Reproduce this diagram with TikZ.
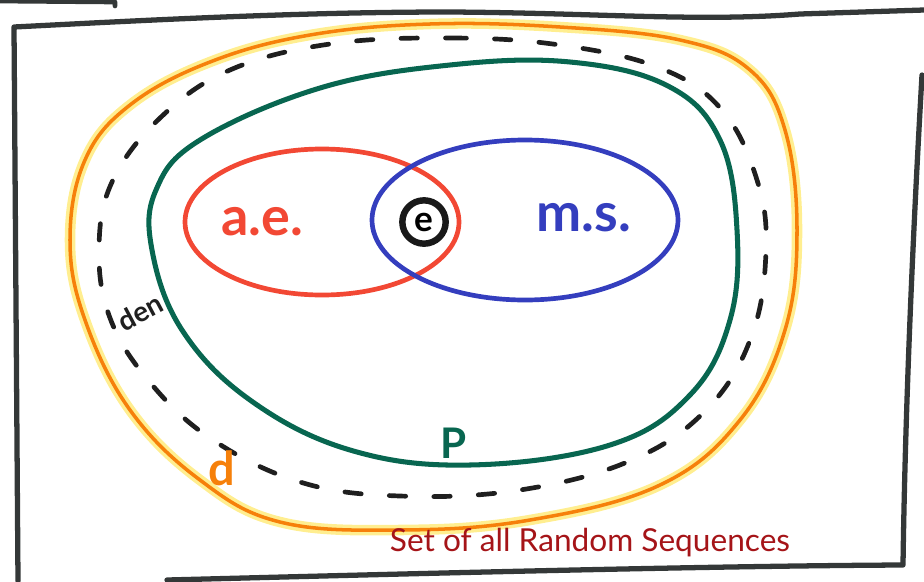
\documentclass[tikz,border=0pt]{standalone}
\usepackage{fontspec}
\setmainfont{Lato}
\usepackage{tikz}
\usetikzlibrary{positioning}

\definecolor{frameink}{RGB}{52,56,56}
\definecolor{dink}{RGB}{246,128,10}
\definecolor{dglow}{RGB}{255,226,70}
\definecolor{pink}{RGB}{8,102,80}
\definecolor{aeink}{RGB}{242,72,52}
\definecolor{msink}{RGB}{52,62,190}
\definecolor{titleink}{RGB}{165,20,24}

\begin{document}
\begin{tikzpicture}[x=0.03cm, y=-0.03cm,
  pen/.style={line width=4pt, line cap=round, line join=round},
  lbl/.style={inner sep=0pt, font=\fontsize{#1}{#1}\selectfont\bfseries},
  lbl/.default=44
]
\useasboundingbox (0,0) rectangle (924,581);

% sheet
\draw[pen, frameink, line width=4.5pt]
  (18,581) -- (14,27) .. controls (150,20) and (300,12) .. (450,12)
  .. controls (600,13) and (700,22) .. (800,14) -- (924,10);
\draw[pen, frameink, line width=4.5pt]
  (922,75) .. controls (912,250) and (905,420) .. (903,565)
  .. controls (700,566) and (400,574) .. (167,580);
\draw[pen, frameink, line width=4pt] (0,1) -- (115,2) -- (115,6);

% d
\draw[dglow, line width=9pt, opacity=.6, line join=round] plot[smooth cycle, tension=.65] coordinates {
  (430,24) (560,27) (680,40) (750,70) (785,130) (797,230) (785,330)
  (740,420) (660,485) (530,520) (400,530) (280,522) (200,480) (130,410)
  (85,320) (70,240) (85,160) (130,105) (210,62) (310,35)};
\draw[pen, dink, line width=3pt] plot[smooth cycle, tension=.65] coordinates {
  (430,24) (560,27) (680,40) (750,70) (785,130) (797,230) (785,330)
  (740,420) (660,485) (530,520) (400,530) (280,522) (200,480) (130,410)
  (85,320) (70,240) (85,160) (130,105) (210,62) (310,35)};

% den
\draw[pen, black!88, dash pattern=on 14pt off 24pt] plot[smooth cycle, tension=.65] coordinates {
  (330,44) (450,38) (560,45) (660,68) (722,110) (757,180) (766,250)
  (752,335) (708,408) (632,460) (520,490) (400,496) (300,482) (210,438)
  (148,380) (110,318) (99,250) (112,182) (160,118) (230,70)};
\node[lbl=24, black!88, rotate=28, fill=white, inner sep=2pt] (den) at (140,312) {den};

% P
\draw[pen, pink, line width=4.3pt] plot[smooth cycle, tension=.65] coordinates {
  (450,65) (570,62) (668,86) (720,140) (737,230) (730,320) (690,395)
  (610,445) (470,465) (350,450) (250,400) (182,330) (152,250) (156,190)
  (200,140) (320,88)};

% a.e. and m.s.
\draw[pen, aeink] (322,222) ellipse [x radius=137, y radius=73];
\draw[pen, msink] (525,220) ellipse [x radius=153, y radius=80];
\node[circle, draw=black!90, line width=5.5pt, inner sep=0pt, minimum size=1.3cm,
  font=\fontsize{30}{30}\selectfont\bfseries] (e) at (424,222) {e};

% labels
\node[lbl=46, aeink] (ae) at (262,222) {a.e.};
\node[lbl=46, msink] (ms) at (584,218) {m.s.};
\node[lbl=40, dink] (d) at (222,468) {d};
\node[lbl=36, pink] (P) at (454,443) {P};
\node[lbl=27, titleink, font=\fontsize{27}{27}\selectfont] (title) at (590,543) {Set of all Random Sequences};
\end{tikzpicture}
\end{document}
